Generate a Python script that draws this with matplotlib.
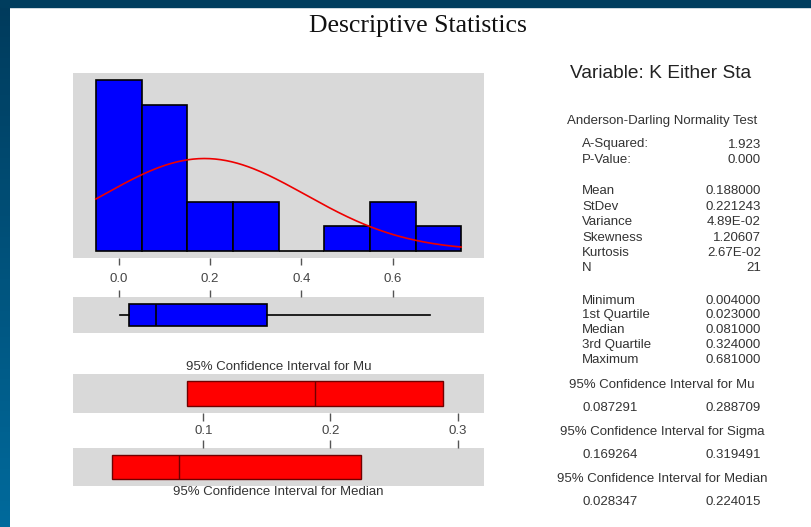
import numpy as np
import matplotlib.pyplot as plt
from matplotlib.patches import Rectangle
from matplotlib.colors import LinearSegmentedColormap

# histogram (bin width 0.1)
bin_centers = [0.0, 0.1, 0.2, 0.3, 0.4, 0.5, 0.6, 0.7]
counts = [7, 6, 2, 2, 0, 1, 2, 1]
bin_width = 0.1

mean = 0.188
stdev = 0.221243
n = 21
five_num = [0.004, 0.023, 0.081, 0.324, 0.681]   # min, q1, median, q3, max
ci_mu = [0.087291, 0.288709]
ci_sigma = [0.169264, 0.319491]
ci_median = [0.028347, 0.224015]

hist_ticks = [0.0, 0.2, 0.4, 0.6]
ci_ticks = [0.1, 0.2, 0.3]

ad_labels = ["A-Squared:", "P-Value:"]
ad_values = ["1.923", "0.000"]
mom_labels = ["Mean", "StDev", "Variance", "Skewness", "Kurtosis", "N"]
mom_values = ["0.188000", "0.221243", "4.89E-02", "1.20607", "2.67E-02", "21"]
q_labels = ["Minimum", "1st Quartile", "Median", "3rd Quartile", "Maximum"]
q_values = ["0.004000", "0.023000", "0.081000", "0.324000", "0.681000"]

W, H = 812, 527
GRAY = '#d9d9d9'
TXT = '#333333'
FS = 9.5
plt.rcParams['font.family'] = ['Liberation Sans', 'DejaVu Sans']

fig = plt.figure(figsize=(W / 100, H / 100), dpi=100)
fig.patch.set_facecolor('white')


def px(x, y):
    return x / W, 1 - y / H


def box(x0, y0, x1, y1):
    return [x0 / W, 1 - y1 / H, (x1 - x0) / W, (y1 - y0) / H]


# slide frame
bord = fig.add_axes([0, 0, 10 / W, 1])
bord.imshow(np.linspace(0, 1, 100).reshape(-1, 1), aspect='auto',
            cmap=LinearSegmentedColormap.from_list('b', ['#003b5c', '#006a9c']))
bord.axis('off')
fig.patches.append(Rectangle((0, 1 - 7 / H), 1, 7 / H, transform=fig.transFigure,
                             color='#003d5e', zorder=5))

fig.text(*px(418, 26), "Descriptive Statistics", family='Liberation Serif',
         fontsize=18.5, ha='center', va='center', color='#111111')


def panel(ax):
    ax.set_facecolor(GRAY)
    for s in ax.spines.values():
        s.set_visible(False)
    ax.set_yticks([])


# histogram
ax1 = fig.add_axes(box(73, 73, 484, 258))
panel(ax1)
ax1.bar(bin_centers, counts, width=bin_width, color='#0000ff', edgecolor='black', linewidth=1.2)
xs = np.linspace(bin_centers[0] - bin_width / 2, bin_centers[-1] + bin_width / 2, 200)
ys = n * bin_width * np.exp(-0.5 * ((xs - mean) / stdev) ** 2) / (stdev * np.sqrt(2 * np.pi))
ax1.plot(xs, ys, color='#ee0000', lw=1.2)
ax1.set_xlim(-0.1, 0.8)
ax1.set_ylim(-0.3, 7.3)
ax1.set_xticks(hist_ticks)
ax1.set_xticklabels(['%.1f' % t for t in hist_ticks])
ax1.tick_params(axis='x', length=5, width=1, color='#555555', pad=6,
                labelsize=FS, labelcolor='#444444')

# boxplot
ax2 = fig.add_axes(box(73, 297, 484, 333))
ax2.bxp([{'whislo': five_num[0], 'q1': five_num[1], 'med': five_num[2],
          'q3': five_num[3], 'whishi': five_num[4], 'fliers': []}],
        positions=[0.5], widths=0.62, orientation='horizontal', patch_artist=True,
        showcaps=False,
        boxprops=dict(facecolor='#0000ff', edgecolor='black', linewidth=1.2),
        medianprops=dict(color='black', linewidth=1.2),
        whiskerprops=dict(color='black', linewidth=1.2))
panel(ax2)
ax2.set_xlim(-0.1, 0.8)
ax2.set_ylim(0, 1)
ax2.set_xticks(hist_ticks)
ax2.xaxis.tick_top()
ax2.tick_params(axis='x', length=5, width=1, color='#555555', labeltop=False)

fig.text(*px(279, 367), "95% Confidence Interval for Mu", fontsize=FS,
         ha='center', va='center', color=TXT)
fig.text(*px(278, 492), "95% Confidence Interval for Median", fontsize=FS,
         ha='center', va='center', color=TXT)

ci_lim = (-0.0024, 0.3207)

# CI for mu
ax3 = fig.add_axes(box(73, 374, 484, 413))
panel(ax3)
ax3.barh(0.5, ci_mu[1] - ci_mu[0], left=ci_mu[0], height=0.625,
         color='#ff0000', edgecolor='#700000', linewidth=1)
ax3.vlines(mean, 0.5 - 0.3125, 0.5 + 0.3125, color='#700000', lw=1)
ax3.set_xlim(*ci_lim)
ax3.set_ylim(0, 1)
ax3.set_xticks(ci_ticks)
ax3.set_xticklabels(['%.1f' % t for t in ci_ticks])
ax3.tick_params(axis='x', length=6, width=1, color='#555555', pad=3,
                labelsize=FS, labelcolor='#444444')

# CI for median
ax4 = fig.add_axes(box(73, 448, 484, 486))
panel(ax4)
ax4.barh(0.5, ci_median[1] - ci_median[0], left=ci_median[0], height=0.645,
         color='#ff0000', edgecolor='#700000', linewidth=1)
ax4.vlines(five_num[2], 0.5 - 0.3225, 0.5 + 0.3225, color='#700000', lw=1)
ax4.set_xlim(*ci_lim)
ax4.set_ylim(0, 1)
ax4.set_xticks(ci_ticks)
ax4.xaxis.tick_top()
ax4.tick_params(axis='x', length=6, width=1, color='#555555', labeltop=False)

# statistics panel on the right
fig.text(*px(570, 73), "Variable: K Either Sta", fontsize=13.8, ha='left', va='center', color='#222222')
fig.text(*px(662, 121), "Anderson-Darling Normality Test", fontsize=FS, ha='center',
         va='center', color=TXT)


def rows(labels, values, y0, dy):
    for i, (l, v) in enumerate(zip(labels, values)):
        fig.text(*px(582, y0 + i * dy), l, fontsize=FS, ha='left', va='center', color=TXT)
        fig.text(*px(761, y0 + i * dy), v, fontsize=FS, ha='right', va='center', color=TXT)


rows(ad_labels, ad_values, 144.5, 15)
rows(mom_labels, mom_values, 191.5, 15.35)
rows(q_labels, q_values, 300.5, 14.9)

for y, title, vals in [(384.5, "95% Confidence Interval for Mu", ci_mu),
                       (431.5, "95% Confidence Interval for Sigma", ci_sigma),
                       (478.5, "95% Confidence Interval for Median", ci_median)]:
    fig.text(*px(662, y), title, fontsize=FS, ha='center', va='center', color=TXT)
    fig.text(*px(583, y + 23.5), '%.6f' % vals[0], fontsize=FS, ha='left', va='center', color=TXT)
    fig.text(*px(761, y + 23.5), '%.6f' % vals[1], fontsize=FS, ha='right', va='center', color=TXT)

fig.savefig('out.png', dpi=100)
